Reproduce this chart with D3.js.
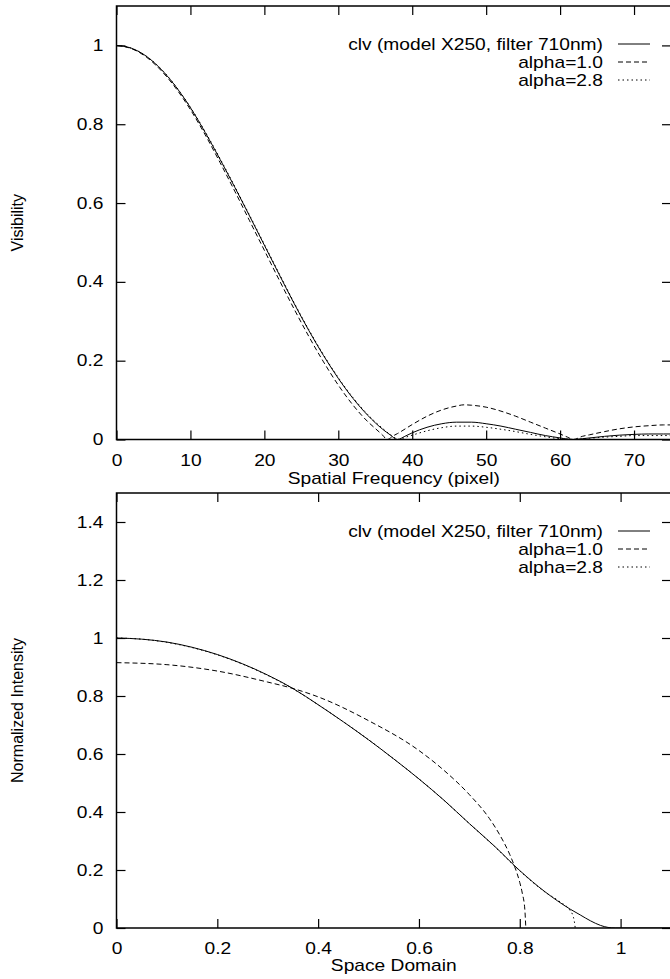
<!DOCTYPE html>
<html>
<head>
<meta charset="utf-8">
<script src="https://cdn.jsdelivr.net/npm/d3@7"></script>
<style>
  body { margin: 0; background: #fff; }
  svg { display: block; }
  text { font-family: "Liberation Sans", Arial, Helvetica, sans-serif; font-size: 16px; fill: #000; }
</style>
</head>
<body>
<div id="chart"></div>
<script>
// ---- Top panel: visibility vs spatial frequency ----
const topXTicks = [0, 10, 20, 30, 40, 50, 60, 70];
const topYTicks = [0, 0.2, 0.4, 0.6, 0.8, 1];
const topYLabels = ["0", "0.2", "0.4", "0.6", "0.8", "1"];

const clvFreq = [0, 2, 4, 6, 8, 10, 12, 14, 16, 18, 20, 22, 24, 26, 28, 30, 32, 34, 36,
  37, 38, 39, 40, 42, 44, 46, 48, 50, 52, 54, 56, 58, 60, 61, 61.8, 63, 64, 66, 68, 70, 72, 74, 76];
const clvVis = [1.0, 0.993, 0.973, 0.940, 0.896, 0.842, 0.779, 0.711, 0.640, 0.567, 0.493, 0.419, 0.346, 0.277, 0.213, 0.155, 0.104, 0.061, 0.026,
  0.012, 0.0, 0.008, 0.017, 0.031, 0.040, 0.044, 0.044, 0.040, 0.034, 0.026, 0.018, 0.010, 0.004, 0.001, 0.0, 0.002, 0.004, 0.008, 0.011, 0.013, 0.014, 0.014, 0.014];

const a10Freq = [0, 2, 4, 6, 8, 10, 12, 14, 16, 18, 20, 22, 24, 26, 28, 30, 32, 34,
  35, 36, 36.6, 37.5, 38, 40, 42, 44, 46, 47, 48, 50, 52, 54, 56, 58, 60, 61, 61.8, 63, 64, 66, 68, 70, 72, 74, 76];
const a10Vis = [1.0, 0.992, 0.971, 0.937, 0.892, 0.837, 0.773, 0.703, 0.630, 0.555, 0.480, 0.405, 0.332, 0.262, 0.197, 0.138, 0.087, 0.045,
  0.028, 0.011, 0.0, 0.010, 0.015, 0.038, 0.059, 0.075, 0.085, 0.088, 0.087, 0.082, 0.072, 0.059, 0.044, 0.029, 0.014, 0.006, 0.0, 0.008, 0.012, 0.020, 0.027, 0.032, 0.035, 0.037, 0.037];

const a28Freq = [0, 2, 4, 6, 8, 10, 12, 14, 16, 18, 20, 22, 24, 26, 28, 30, 32, 34, 36,
  37, 38.3, 39, 40, 42, 44, 46, 48, 50, 52, 54, 56, 58, 60, 61, 62, 63, 64, 66, 68, 70, 72, 74, 76];
const a28Vis = [1.0, 0.993, 0.973, 0.941, 0.897, 0.843, 0.781, 0.713, 0.642, 0.569, 0.495, 0.421, 0.348, 0.279, 0.215, 0.157, 0.106, 0.063, 0.028,
  0.013, 0.0, 0.005, 0.011, 0.022, 0.030, 0.034, 0.034, 0.031, 0.026, 0.020, 0.013, 0.007, 0.002, 0.001, 0.0, 0.001, 0.003, 0.006, 0.008, 0.010, 0.010, 0.010, 0.010];

// ---- Bottom panel: normalized intensity vs space domain ----
const botXTicks = [0, 0.2, 0.4, 0.6, 0.8, 1];
const botXLabels = ["0", "0.2", "0.4", "0.6", "0.8", "1"];
const botYTicks = [0, 0.2, 0.4, 0.6, 0.8, 1, 1.2, 1.4];
const botYLabels = ["0", "0.2", "0.4", "0.6", "0.8", "1", "1.2", "1.4"];

const clvR = [0, 0.05, 0.1, 0.15, 0.2, 0.25, 0.3, 0.35, 0.4, 0.45, 0.5, 0.55, 0.6, 0.65, 0.7, 0.75, 0.8, 0.85, 0.9, 0.92, 0.94, 0.96, 0.975, 0.99, 1.1];
const clvI = [1.0, 0.996, 0.986, 0.968, 0.943, 0.911, 0.872, 0.826, 0.770, 0.711, 0.649, 0.583, 0.514, 0.440, 0.360, 0.282, 0.198, 0.125, 0.065, 0.045, 0.025, 0.009, 0.002, 0.0, 0.0];

const a10R = [0, 0.1, 0.2, 0.3, 0.35, 0.4, 0.5, 0.6, 0.65, 0.7, 0.74, 0.76, 0.78, 0.79, 0.8, 0.805, 0.81, 0.812];
const a10I = [0.915, 0.908, 0.886, 0.848, 0.826, 0.797, 0.715, 0.612, 0.543, 0.460, 0.377, 0.322, 0.254, 0.211, 0.157, 0.120, 0.064, 0.0];

const a28R = [0, 0.05, 0.1, 0.15, 0.2, 0.25, 0.3, 0.35, 0.4, 0.45, 0.5, 0.55, 0.6, 0.65, 0.7, 0.75, 0.8, 0.85, 0.88, 0.9, 0.905, 0.908, 0.91];
const a28I = [1.0, 0.996, 0.985, 0.967, 0.942, 0.910, 0.871, 0.825, 0.770, 0.711, 0.649, 0.583, 0.514, 0.440, 0.360, 0.281, 0.197, 0.124, 0.090, 0.060, 0.045, 0.025, 0.0];

const legendLabels = ["clv (model X250, filter 710nm)", "alpha=1.0", "alpha=2.8"];
const dashes = [null, "5,3", "1.5,3"];

// ---- Layout ----
const W = 670, H = 979;
const SX = 1.2;               // text is a little wider than tall in the original
const plotLeft = 116.5, plotRight = 671;

const svg = d3.select("#chart").append("svg")
  .attr("width", W)
  .attr("height", H);

function label(g, x, y, txt, anchor) {
  return g.append("text")
    .attr("transform", `translate(${x},${y}) scale(${SX},1)`)
    .attr("text-anchor", anchor || "middle")
    .text(txt);
}

function drawPanel(p) {
  const x = d3.scaleLinear().domain(p.xDomain).range([plotLeft, plotRight]);
  const y = d3.scaleLinear().domain(p.yDomain).range([p.bottom, p.top]);
  const g = svg.append("g");

  const clipId = "clip-" + p.id;
  g.append("clipPath").attr("id", clipId)
    .append("rect")
    .attr("x", plotLeft).attr("y", p.top)
    .attr("width", plotRight - plotLeft).attr("height", p.bottom - p.top);

  // curves
  const line = d3.line()
    .x(d => x(d[0]))
    .y(d => y(d[1]))
    .curve(d3.curveMonotoneX);

  p.series.forEach((s, i) => {
    g.append("path")
      .datum(s.xs.map((v, j) => [v, s.ys[j]]))
      .attr("clip-path", `url(#${clipId})`)
      .attr("fill", "none")
      .attr("stroke", "#000")
      .attr("stroke-width", 1)
      .attr("stroke-dasharray", dashes[i])
      .attr("d", line);
  });

  // axes, ticks pointing inwards on all four sides
  const xb = g.append("g")
    .attr("transform", `translate(0,${p.bottom})`)
    .call(d3.axisBottom(x).tickValues(p.xTicks).tickSize(-9).tickSizeOuter(0)
      .tickPadding(p.xPad).tickFormat((d, i) => p.xLabels[i]));
  g.append("g")
    .attr("transform", `translate(0,${p.top})`)
    .call(d3.axisTop(x).tickValues(p.xTicks).tickSize(-9).tickSizeOuter(0).tickFormat(""));
  const yl = g.append("g")
    .attr("transform", `translate(${plotLeft},0)`)
    .call(d3.axisLeft(y).tickValues(p.yTicks).tickSize(-9).tickSizeOuter(0)
      .tickFormat((d, i) => p.yLabels[i]));
  g.append("g")
    .attr("transform", `translate(${plotRight},0)`)
    .call(d3.axisRight(y).tickValues(p.yTicks).tickSize(-9).tickSizeOuter(0).tickFormat(""));

  g.selectAll(".domain").remove();
  g.selectAll(".tick line").attr("stroke", "#000").attr("stroke-width", 1.2);
  g.selectAll(".tick text").attr("fill", "#000").style("font-size", "16px")
    .style("font-family", '"Liberation Sans", Arial, Helvetica, sans-serif');
  xb.selectAll(".tick text").attr("transform", `scale(${SX},1)`);
  yl.selectAll(".tick text").attr("x", -13 / SX).attr("transform", `scale(${SX},1)`);

  // frame
  g.append("rect")
    .attr("x", plotLeft).attr("y", p.top)
    .attr("width", plotRight - plotLeft).attr("height", p.bottom - p.top)
    .attr("fill", "none").attr("stroke", "#000").attr("stroke-width", 1.5);

  // axis titles
  label(g, (plotLeft + plotRight) / 2, p.bottom + p.titleDy, p.xTitle);
  g.append("text")
    .attr("transform", `translate(23,${(p.top + p.bottom) / 2}) rotate(-90)`)
    .attr("text-anchor", "middle")
    .text(p.yTitle);

  // legend
  legendLabels.forEach((t, i) => {
    const cy = p.top + p.keyTop + i * 18;
    label(g, 603, cy + 6, t, "end");
    g.append("line")
      .attr("x1", 618).attr("x2", 650)
      .attr("y1", cy).attr("y2", cy)
      .attr("stroke", "#000").attr("stroke-width", 1)
      .attr("stroke-dasharray", dashes[i]);
  });
}

drawPanel({
  id: "vis",
  top: 6, bottom: 439.5,
  xDomain: [0, 75], yDomain: [0, 1.1],
  xTicks: topXTicks, xLabels: topXTicks.map(String), xPad: 15,
  yTicks: topYTicks, yLabels: topYLabels,
  xTitle: "Spatial Frequency (pixel)", yTitle: "Visibility", titleDy: 44,
  keyTop: 38,
  series: [
    { xs: clvFreq, ys: clvVis },
    { xs: a10Freq, ys: a10Vis },
    { xs: a28Freq, ys: a28Vis }
  ]
});

drawPanel({
  id: "int",
  top: 493, bottom: 928,
  xDomain: [0, 1.1], yDomain: [0, 1.5],
  xTicks: botXTicks, xLabels: botXLabels, xPad: 15,
  yTicks: botYTicks, yLabels: botYLabels,
  xTitle: "Space Domain", yTitle: "Normalized Intensity", titleDy: 43,
  keyTop: 38,
  series: [
    { xs: clvR, ys: clvI },
    { xs: a10R, ys: a10I },
    { xs: a28R, ys: a28I }
  ]
});
</script>
</body>
</html>
